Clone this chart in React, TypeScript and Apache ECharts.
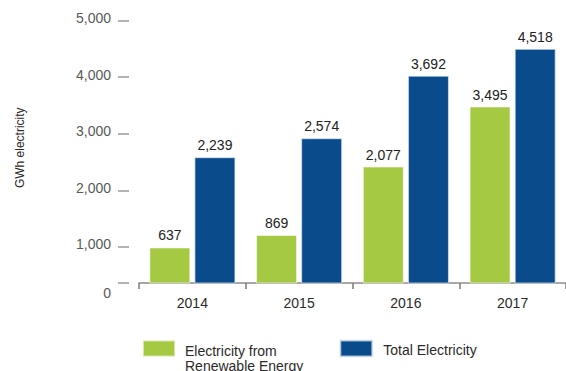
import React, { useEffect, useRef } from "react";
import * as echarts from "echarts";

const years = ["2014", "2015", "2016", "2017"];
// bar heights as drawn against the value axis
const renewableBars = [990, 1210, 2420, 3480];
const totalBars = [2585, 2920, 4025, 4500];
// value labels printed above the bars
const renewableLabels = ["637", "869", "2,077", "3,495"];
const totalLabels = ["2,239", "2,574", "3,692", "4,518"];
const yTicks = [1000, 2000, 3000, 4000, 5000];
const seriesNames = ["Electricity from\nRenewable Energy", "Total Electricity"];

const FONT = "'Liberation Sans', Arial, Helvetica, sans-serif";
const AXIS_MIN = 362;

export default function App() {
  const ref = useRef<HTMLDivElement>(null);
  useEffect(() => {
    if (!ref.current) return;
    const chart = echarts.init(ref.current, undefined, { renderer: "svg" });
    const fmtTick = (v: number) =>
      v < 1000 ? "{z|0}" : "{n|" + v.toLocaleString("en-US") + "}";
    const fmtLegend = (name: string) => {
      const lines = name.split("\n");
      if (lines.length > 1) return "{s| }\n" + lines.map((l) => "{t|" + l + "}").join("\n");
      return "{u|" + name + "}";
    };
    chart.setOption({
      animation: false,
      backgroundColor: "#ffffff",
      textStyle: { fontFamily: FONT },
      grid: { left: 139, top: 20.5, width: 429, height: 262.5, containLabel: false },
      legend: {
        left: 142,
        top: 333,
        padding: 0,
        itemWidth: 32,
        itemHeight: 16,
        itemGap: 36,
        icon: "rect",
        selectedMode: false,
        data: seriesNames,
        formatter: fmtLegend,
        textStyle: {
          fontFamily: FONT,
          fontSize: 14,
          color: "#2a2a2a",
          rich: {
            s: { fontSize: 1, lineHeight: 19 },
            t: { fontSize: 14, lineHeight: 15, color: "#2a2a2a", fontFamily: FONT, padding: [0, 0, 0, 5] },
            u: { fontSize: 14, lineHeight: 15, color: "#2a2a2a", fontFamily: FONT, padding: [3, 0, 0, 6] },
          },
        },
      },
      xAxis: {
        type: "category",
        data: years,
        axisLine: { show: true, lineStyle: { color: "#8c8c8c", width: 1.5 } },
        axisTick: { show: true, alignWithLabel: false, length: 6, lineStyle: { color: "#7a7a7a", width: 1.5 } },
        axisLabel: { color: "#2a2a2a", fontSize: 14, margin: 13, fontFamily: FONT },
        splitLine: { show: false },
      },
      yAxis: {
        type: "value",
        min: AXIS_MIN,
        max: 5000,
        offset: 10,
        name: "GWh electricity",
        nameLocation: "middle",
        nameGap: 103,
        nameTextStyle: { fontSize: 12, color: "#2a2a2a", fontFamily: FONT, padding: [0, 0, 0, 8] },
        axisLine: { show: false },
        splitLine: { show: false },
        axisTick: {
          show: true,
          length: 11,
          customValues: [AXIS_MIN, ...yTicks],
          lineStyle: { color: "#9a9a9a", width: 1.5 },
        },
        axisLabel: {
          margin: 18,
          customValues: [AXIS_MIN, ...yTicks],
          formatter: fmtTick,
          rich: {
            n: { fontSize: 14, color: "#595959", fontFamily: FONT, padding: [0, 0, 5, 0] },
            z: { fontSize: 14, color: "#595959", fontFamily: FONT, padding: [20, 0, 0, 0] },
          },
        },
      },
      series: [
        {
          name: seriesNames[0],
          type: "bar",
          data: renewableBars,
          barWidth: 41,
          barGap: "10%",
          clip: true,
          itemStyle: { color: "#a6c944", borderColor: "rgba(255,255,255,0.55)", borderWidth: 1 },
          label: {
            show: true,
            position: "top",
            distance: 5,
            fontSize: 14,
            color: "#222222",
            fontFamily: FONT,
            formatter: (p: any) => renewableLabels[p.dataIndex],
          },
        },
        {
          name: seriesNames[1],
          type: "bar",
          data: totalBars,
          barWidth: 41,
          barGap: "10%",
          clip: true,
          itemStyle: { color: "#0a4b8c", borderColor: "rgba(220,232,245,0.7)", borderWidth: 1 },
          label: {
            show: true,
            position: "top",
            distance: 5,
            fontSize: 14,
            color: "#222222",
            fontFamily: FONT,
            formatter: (p: any) => totalLabels[p.dataIndex],
          },
        },
      ],
    });
    return () => chart.dispose();
  }, []);
  return (
    <div
      ref={ref}
      style={{ position: "fixed", left: 0, top: 0, width: 566, height: 371, background: "#fff" }}
    />
  );
}
